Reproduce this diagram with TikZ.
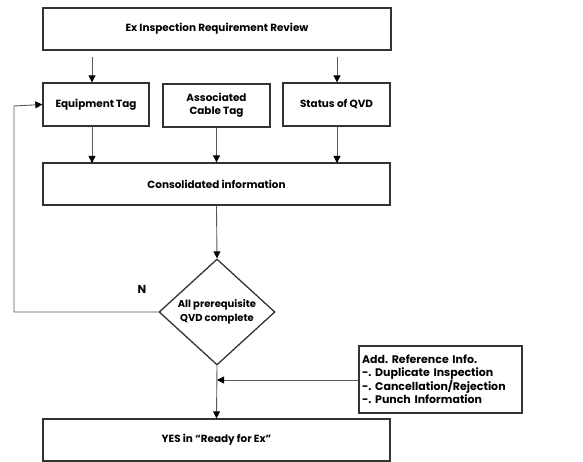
\documentclass[tikz,border=0pt]{standalone}
\usepackage{fontspec}
\setmainfont{Poppins}
\usetikzlibrary{shapes.geometric,arrows.meta}
\frenchspacing
\begin{document}
\begin{tikzpicture}[x=1pt,y=-1pt,
  txt/.style={font=\fontsize{10.4}{13}\selectfont\bfseries},
  box/.style={draw=black!80,line width=1.3pt,inner sep=0pt,txt},
  dec/.style={draw=black!80,line width=1.3pt,diamond,inner sep=0pt,minimum width=116pt,minimum height=106pt,
    font=\fontsize{10}{14}\selectfont\bfseries,align=center},
  link/.style={draw=black!65,line width=0.9pt,-{Triangle[length=7pt,width=7pt,color=black]}}]
\useasboundingbox (0,0) rectangle (583,462);
% boxes
\node[box,minimum width=348pt,minimum height=42pt] (req) at (217,29) {Ex Inspection Requirement Review};
\node[box,minimum width=106pt,minimum height=43pt] (eq) at (96,104.5) {Equipment Tag};
\node[box,minimum width=107pt,minimum height=43pt,align=center] (cab) at (216.5,105.5) {Associated\\Cable Tag};
\node[box,minimum width=107pt,minimum height=43pt] (qvd) at (336.5,104.5) {Status of QVD};
\node[box,minimum width=347pt,minimum height=42pt] (con) at (216.5,184) {Consolidated information};
\node[dec] (chk) at (217,312) {All prerequisite\\QVD complete};
\node[box,minimum width=163pt,minimum height=67pt,align=left,text width=157pt,inner xsep=3pt,
  font=\fontsize{11}{12.6}\selectfont\bfseries] (ref) at (440.5,379.5)
  {Add. Reference Info.\\-. Duplicate Inspection\\-. Cancellation/Rejection\\-. Punch Information};
\node[box,minimum width=347pt,minimum height=42pt] (yes) at (216.5,440) {YES in ``Ready for Ex''};
\node[font=\fontsize{11.5}{12}\selectfont\bfseries] (nlab) at (142,289) {N};
% connectors
\coordinate (r1) at (92,57);
\coordinate (r2) at (337,57);
\draw[link] (r1) -- (r1 |- eq.north);
\draw[link] (r2) -- (r2 |- qvd.north);
\draw[link] (92,126) -- (92,163);
\draw[link] (cab.south) -- (cab.south |- con.north);
\draw[link] (337,126) -- (337,163);
\draw[link] (con.south) -- (chk.north);
\draw[link] (chk.west) -| (14,106) -- (eq.west);
\draw[link] (chk.south) -- (yes.north);
\coordinate (mid) at (217,380);
\draw[link] (ref.west |- mid) -- (mid);
\end{tikzpicture}
\end{document}
